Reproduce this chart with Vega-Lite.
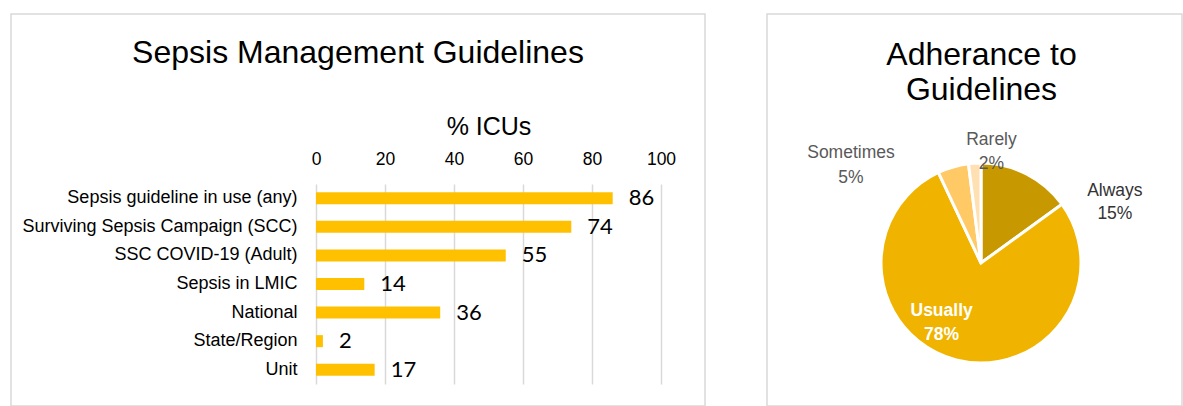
{
  "$schema": "https://vega.github.io/schema/vega-lite/v6.json",
  "padding": {"left": 10, "top": 13, "right": 0, "bottom": 0},
  "background": "white",
  "spacing": 60,
  "config": {
    "view": {"stroke": "#d9d9d9", "strokeWidth": 1.5},
    "font": "Liberation Sans"
  },
  "hconcat": [
    {
      "width": 694,
      "height": 392,
      "title": {"text": "Sepsis Management Guidelines", "fontSize": 32, "fontWeight": "normal", "font": "Liberation Sans", "color": "#000000", "anchor": "middle", "offset": -56},
      "data": {"values": [
        {"guideline": "Sepsis guideline in use (any)", "pct": 86},
        {"guideline": "Surviving Sepsis Campaign (SCC)", "pct": 74},
        {"guideline": "SSC COVID-19 (Adult)", "pct": 55},
        {"guideline": "Sepsis in LMIC", "pct": 14},
        {"guideline": "National", "pct": 36},
        {"guideline": "State/Region", "pct": 2},
        {"guideline": "Unit", "pct": 17}
      ]},
      "encoding": {
        "y": {
          "field": "guideline", "type": "nominal", "sort": null,
          "scale": {"range": [170, 370], "paddingInner": 0.58, "paddingOuter": 0.29},
          "axis": {"orient": "left", "offset": -305, "title": null, "domain": false, "ticks": false, "grid": false, "labelPadding": 19, "labelFontSize": 18, "labelColor": "#000000", "labelLimit": 500, "labelFont": "Liberation Sans"}
        },
        "x": {
          "field": "pct", "type": "quantitative",
          "scale": {"domain": [0, 100], "range": [305, 650], "nice": false},
          "axis": {"orient": "top", "offset": -170, "values": [0, 20, 40, 60, 80, 100], "grid": true, "gridColor": "#d9d9d9", "gridWidth": 1.5, "domain": false, "ticks": false, "labelFlush": false, "labelPadding": 16, "labelFontSize": 17.5, "labelColor": "#000000", "labelFont": "Liberation Sans", "title": "% ICUs", "titleFont": "Liberation Sans", "titleFontSize": 25, "titleFontWeight": "normal", "titleColor": "#000000", "titlePadding": 11}
        }
      },
      "layer": [
        {"mark": {"type": "bar", "color": "#FFC000"}},
        {"mark": {"type": "text", "align": "left", "baseline": "middle", "dx": 16, "font": "Lato", "fontSize": 22, "color": "#000000"}, "encoding": {"text": {"field": "pct", "type": "quantitative"}}}
      ]
    },
    {
      "width": 415,
      "height": 392,
      "title": {"text": ["Adherance to", "Guidelines"], "fontSize": 32, "fontWeight": "normal", "font": "Liberation Sans", "color": "#000000", "lineHeight": 35, "anchor": "middle", "offset": -93, "dx": 7},
      "data": {"values": [
        {"response": "Always", "pct": 15, "rank": 1, "label": "Always\n15%"},
        {"response": "Usually", "pct": 78, "rank": 2, "label": "Usually\n78%"},
        {"response": "Sometimes", "pct": 5, "rank": 3, "label": "Sometimes\n5%"},
        {"response": "Rarely", "pct": 2, "rank": 4, "label": "Rarely\n2%"}
      ]},
      "encoding": {
        "x": {"datum": 0, "type": "quantitative", "scale": {"domain": [-2.14, 2.01], "nice": false, "zero": false}, "axis": null},
        "y": {"datum": 0, "type": "quantitative", "scale": {"domain": [-1.43, 2.49], "nice": false, "zero": false}, "axis": null},
        "theta": {"field": "pct", "type": "quantitative", "stack": true},
        "order": {"field": "rank", "type": "quantitative"}
      },
      "layer": [
        {
          "mark": {"type": "arc", "outerRadius": 100, "stroke": "white", "strokeWidth": 3},
          "encoding": {"color": {"field": "response", "type": "nominal", "scale": {"domain": ["Always", "Usually", "Sometimes", "Rarely"], "range": ["#C89800", "#F0B400", "#FFC966", "#FFE0B2"]}, "legend": null}}
        },
        {
          "mark": {"type": "text", "radius": 152, "thetaOffset": 0.6065, "lineBreak": "\n", "lineHeight": 23, "fontSize": 17.5, "color": "#333333", "align": "center", "baseline": "middle"},
          "encoding": {"text": {"condition": {"test": "datum.response === 'Always'", "field": "label"}, "value": ""}}
        },
        {
          "mark": {"type": "text", "radius": 62, "thetaOffset": 0.437, "lineBreak": "\n", "lineHeight": 24, "fontSize": 17.5, "fontWeight": "bold", "color": "#ffffff", "align": "center", "baseline": "middle"},
          "encoding": {"text": {"condition": {"test": "datum.response === 'Usually'", "field": "label"}, "value": ""}}
        },
        {
          "mark": {"type": "text", "radius": 170, "thetaOffset": -0.588, "lineBreak": "\n", "lineHeight": 25, "fontSize": 17.5, "color": "#595959", "align": "center", "baseline": "middle"},
          "encoding": {"text": {"condition": {"test": "datum.response === 'Sometimes'", "field": "label"}, "value": ""}}
        },
        {
          "mark": {"type": "text", "radius": 123, "thetaOffset": 0.148, "lineBreak": "\n", "lineHeight": 24, "fontSize": 17.5, "color": "#595959", "align": "center", "baseline": "middle"},
          "encoding": {"text": {"condition": {"test": "datum.response === 'Rarely'", "field": "label"}, "value": ""}}
        }
      ]
    }
  ]
}
